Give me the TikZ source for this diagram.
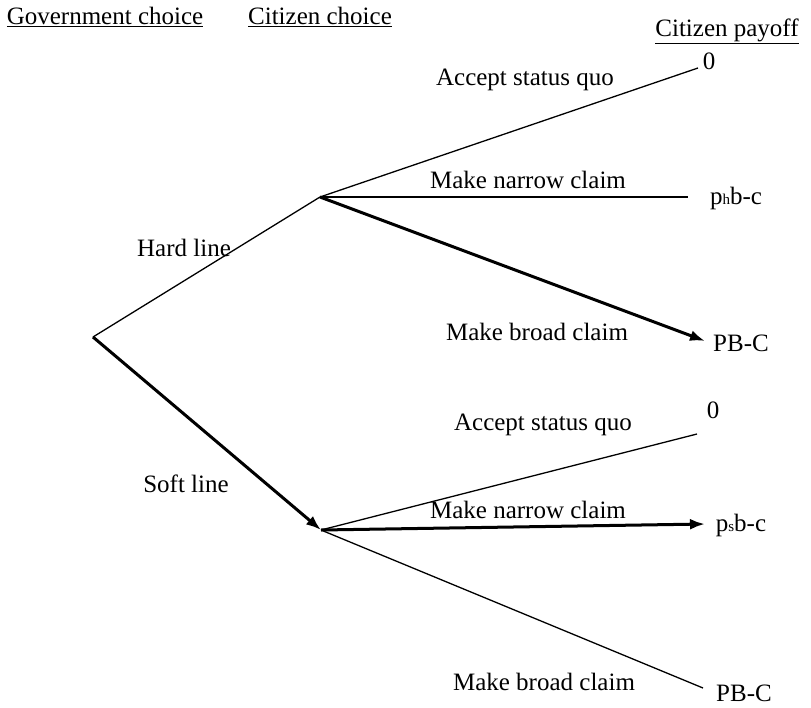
\documentclass[tikz,border=0pt]{standalone}
\usepackage{fontspec}
\setmainfont{Liberation Serif}
\usetikzlibrary{arrows.meta}
\begin{document}
\begin{tikzpicture}[x=1pt,y=-1pt,
  every node/.style={font=\fontsize{25}{30}\selectfont, inner sep=0pt},
  thin branch/.style={line width=1.3pt},
  thick branch/.style={line width=3pt},
  tipped/.style={-{Latex[length=15pt,width=11pt]}}]
\useasboundingbox (0,0) rectangle (811,707);
% headers
\node (hgov) at (105,17) {\underline{Government choice}};
\node (hcit) at (320,17) {\underline{Citizen choice}};
\node (hpay) at (727,31) {\underline{Citizen payoff}};
% decision points
\coordinate (root) at (93,337);
\coordinate (up) at (320,197);
\coordinate (lo) at (321,530);
% free ends
\coordinate (e1) at (698,68);
\coordinate (e2) at (688,197);
\coordinate (e3) at (705,341);
\coordinate (e4) at (697,434);
\coordinate (e5) at (705,524);
\coordinate (e6) at (703,688);
% branches
\draw[thin branch] (root) -- (up);
\draw[thick branch, tipped] (root) -- (lo);
\draw[thin branch] (up) -- (e1);
\draw[thin branch] (up) -- (e2);
\draw[thick branch, tipped] (up) -- (e3);
\draw[thin branch] (lo) -- (e4);
\draw[thick branch, tipped] (lo) -- (e5);
\draw[thin branch] (lo) -- (e6);
% branch labels
\node (lhard) at (184,248) {Hard line};
\node (lsoft) at (186,484) {Soft line};
\node (l1) at (525,80) {Accept status quo};
\node (l2) at (528,180) {Make narrow claim};
\node (l3) at (537,332) {Make broad claim};
\node (l4) at (543,425) {Accept status quo};
\node (l5) at (528,510) {Make narrow claim};
\node (l6) at (544,682) {Make broad claim};
% payoffs
\node (p1) at (709,61) {0};
\node (p2) at (736,198) {p{\fontsize{15}{15}\selectfont h}b-c};
\node (p3) at (741,343) {PB-C};
\node (p4) at (713,410) {0};
\node (p5) at (741,525) {p{\fontsize{15}{15}\selectfont s}b-c};
\node (p6) at (744,693) {PB-C};
\end{tikzpicture}
\end{document}
